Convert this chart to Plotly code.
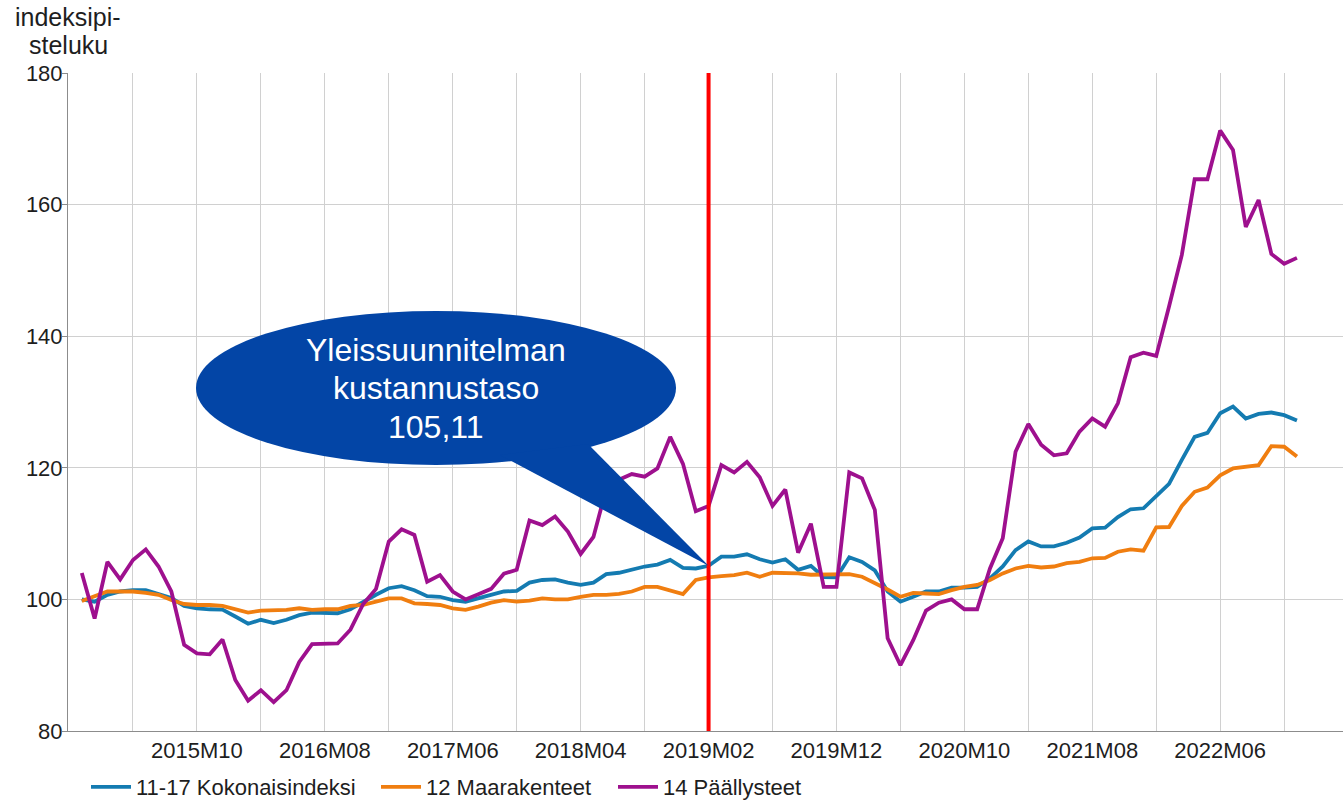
import plotly.graph_objects as go

# ---- data -------------------------------------------------------------
years = list(range(2015, 2023))
months = [f"{y}M{m:02d}" for y in years for m in range(1, 13)]  # 2015M01 .. 2022M12

kokonais = [100.0, 99.65, 100.7, 101.2, 101.4, 101.4, 100.8, 100.2, 99.0, 98.65,
            98.5, 98.45, 97.4, 96.3, 96.9, 96.4, 96.9, 97.6, 98.0, 98.0,
            97.9, 98.5, 99.65, 100.7, 101.7, 102.0, 101.4, 100.5, 100.4, 99.9,
            99.65, 100.15, 100.7, 101.2, 101.3, 102.55, 102.95, 103.05, 102.55, 102.2,
            102.55, 103.85, 104.05, 104.5, 105.0, 105.3, 106.0, 104.8, 104.7, 105.11,
            106.5, 106.5, 106.85, 106.1, 105.6, 106.1, 104.5, 105.1, 103.4, 103.35,
            106.4, 105.7, 104.4, 101.2, 99.65, 100.4, 101.2, 101.2, 101.8, 101.8,
            101.9, 103.2, 105.0, 107.5, 108.8, 108.05, 108.05, 108.6, 109.4, 110.8,
            110.9, 112.5, 113.7, 113.85, 115.7, 117.55, 121.2, 124.7, 125.3, 128.3,
            129.3, 127.5, 128.2, 128.4, 128.0, 127.2]

maarakenteet = [99.75, 100.4, 101.2, 101.2, 101.2, 101.0, 100.7, 99.9, 99.3, 99.15,
                99.15, 99.0, 98.5, 98.0, 98.3, 98.3, 98.4, 98.65, 98.4, 98.5,
                98.5, 99.0, 99.15, 99.65, 100.15, 100.15, 99.4, 99.3, 99.15, 98.65,
                98.4, 98.9, 99.5, 99.9, 99.65, 99.8, 100.15, 100.0, 100.0, 100.4,
                100.7, 100.7, 100.85, 101.2, 101.9, 101.9, 101.3, 100.8, 102.95, 103.35,
                103.55, 103.7, 104.05, 103.45, 104.05, 104.05, 103.95, 103.75, 103.8, 103.85,
                103.85, 103.45, 102.55, 101.5, 100.4, 101.0, 100.9, 100.8, 101.4, 101.9,
                102.2, 102.95, 103.95, 104.7, 105.1, 104.85, 105.0, 105.5, 105.7, 106.25,
                106.3, 107.25, 107.6, 107.4, 110.95, 111.0, 114.2, 116.35, 117.0, 118.85,
                119.9, 120.15, 120.4, 123.3, 123.2, 121.7]

paallysteet = [104.0, 97.1, 105.7, 103.05, 106.0, 107.6, 105.0, 101.2, 93.1, 91.8,
               91.65, 93.9, 87.75, 84.6, 86.2, 84.4, 86.2, 90.5, 93.2, 93.3,
               93.3, 95.4, 99.3, 101.6, 108.8, 110.65, 109.8, 102.7, 103.7, 101.2,
               100.0, 100.8, 101.6, 103.9, 104.5, 112.0, 111.3, 112.6, 110.3, 106.9,
               109.5, 116.8, 118.2, 119.05, 118.65, 119.9, 124.7, 120.6, 113.4, 114.2,
               120.4, 119.3, 120.9, 118.55, 114.2, 116.7, 107.1, 111.5, 101.9, 101.9,
               119.3, 118.4, 113.6, 94.1, 90.0, 93.8, 98.3, 99.5, 100.0, 98.5,
               98.5, 104.7, 109.3, 122.45, 126.65, 123.5, 121.9, 122.2, 125.5, 127.5,
               126.25, 129.8, 136.8, 137.5, 137.0, 144.5, 152.35, 163.85, 163.85, 171.25,
               168.3, 156.6, 160.7, 152.5, 151.0, 151.9]

series_names = ["11-17 Kokonaisindeksi", "12 Maarakenteet", "14 Päällysteet"]
y_ticks = [80, 100, 120, 140, 160, 180]
label_months = ["2015M10", "2016M08", "2017M06", "2018M04", "2019M02",
                "2019M12", "2020M10", "2021M08", "2022M06"]
marker_month = "2019M02"
marker_value = 105.11
callout_lines = ["Yleissuunnitelman", "kustannustaso", "105,11"]
y_title_lines = ["indeksipi-", "steluku"]

# ---- figure -----------------------------------------------------------
W, H = 1343, 800
L, R, T, B = 68, 0, 73, 69
PW, PH = W - L - R, H - T - B

def px(xp):
    return (xp - L) / PW

def py(yp):
    return (H - B - yp) / PH

FONT = "Arial, Liberation Sans, sans-serif"
TXT = "#1E1E1E"
colors = ["#147BB1", "#F07E10", "#9E108E"]

fig = go.Figure()
legend_w = [235, 182, 160]
for name, vals, c, lw in zip(series_names, [kokonais, maarakenteet, paallysteet], colors, legend_w):
    fig.add_trace(go.Scatter(x=months, y=vals, mode="lines", name=name,
                             line=dict(color=c, width=3.8), legendwidth=lw))

# gridlines every 5 months, labels every 10 months
grid_months = [m for k, m in enumerate(months) if k % 5 == 4]
grid_text = [m if m in label_months else "" for m in grid_months]

mi = months.index(marker_month)
X0, X1 = -1.08, 98.6

fig.update_layout(
    width=W, height=H,
    margin=dict(l=L, r=R, t=T, b=B, autoexpand=False),
    plot_bgcolor="white", paper_bgcolor="white",
    font=dict(family=FONT, size=22, color=TXT),
    showlegend=True,
    legend=dict(orientation="h", x=px(86), xanchor="left", y=py(787), yanchor="middle",
                font=dict(size=22, color=TXT), itemwidth=40, tracegroupgap=0,
                bgcolor="rgba(0,0,0,0)"),
    xaxis=dict(type="category", categoryorder="array", categoryarray=months,
               range=[X0, X1], tickmode="array", tickvals=grid_months,
               ticktext=grid_text, showgrid=True, gridcolor="#D0D0D0", gridwidth=1,
               showline=True, linecolor="#8C8C8C", linewidth=1, ticks="",
               tickangle=0, tickfont=dict(size=22), zeroline=False, automargin=False),
    yaxis=dict(range=[80, 180], tickmode="array", tickvals=y_ticks,
               showgrid=True, gridcolor="#D0D0D0", gridwidth=1,
               showline=True, linecolor="#8C8C8C", linewidth=1,
               ticks="outside", ticklen=5, tickcolor="#8C8C8C", ticklabelstandoff=-5,
               tickfont=dict(size=22), zeroline=False, automargin=False),
)

# red vertical line at 2019M02
fig.add_shape(type="line", xref="x", yref="paper", x0=mi, x1=mi, y0=0, y1=1,
              line=dict(color="#FF0000", width=4), layer="above")

# callout ellipse + tail
CX, CY, RX, RY = 436, 388, 240, 77
callout_color = "#0345A6"
fig.add_shape(type="circle", xref="paper", yref="paper",
              x0=px(CX - RX), x1=px(CX + RX), y0=py(CY + RY), y1=py(CY - RY),
              fillcolor=callout_color, line=dict(width=0), layer="above")
tip_x = px(L + (mi - X0) / (X1 - X0) * PW)
tip_y = (marker_value - 80) / 100
path = f"M {px(500)},{py(455)} L {px(588)},{py(444)} L {tip_x},{tip_y} Z"
fig.add_shape(type="path", xref="paper", yref="paper", path=path,
              fillcolor=callout_color, line=dict(width=0), layer="above")
for line, yc in zip(callout_lines, [350, 388, 427]):
    fig.add_annotation(xref="paper", yref="paper", x=px(CX), y=py(yc), text=line,
                       showarrow=False, xanchor="center", yanchor="middle",
                       font=dict(family=FONT, size=32, color="white"))

# y axis title at top left
for line, yc in zip(y_title_lines, [17, 45]):
    fig.add_annotation(xref="paper", yref="paper", x=px(68), y=py(yc), text=line,
                       showarrow=False, xanchor="center", yanchor="middle",
                       font=dict(family=FONT, size=25, color=TXT))

fig.write_html("out.html", config={"displayModeBar": False},
               post_script="document.body.style.margin='0';document.body.style.overflow='hidden';")
